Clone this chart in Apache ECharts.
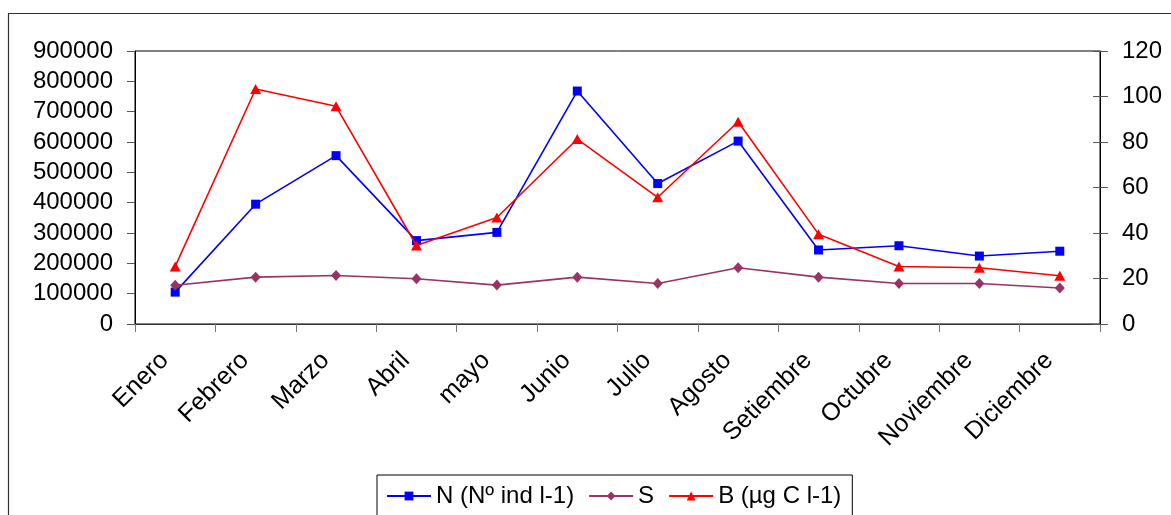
<!DOCTYPE html>
<html>
<head>
<meta charset="utf-8">
<title>N, S, B mensual</title>
<script src="https://cdn.jsdelivr.net/npm/echarts@6/dist/echarts.min.js"></script>
<style>
  html, body { margin: 0; padding: 0; background: #fff; }
  #chart { width: 1171px; height: 515px; }
</style>
</head>
<body>
<div id="chart"></div>
<script>
// Monthly values
const months = ['Enero', 'Febrero', 'Marzo', 'Abril', 'mayo', 'Junio', 'Julio',
  'Agosto', 'Setiembre', 'Octubre', 'Noviembre', 'Diciembre'];
const seriesN = [105000, 395000, 555000, 275000, 302000, 768000, 463000, 603000, 244000, 258000, 224000, 240000];
const seriesS = [17.0, 20.6, 21.3, 19.9, 17.1, 20.6, 17.8, 24.7, 20.6, 17.8, 17.8, 15.8];
const seriesB = [25.3, 103.3, 95.7, 34.5, 46.8, 81.3, 55.7, 88.9, 39.5, 25.3, 24.7, 21.2];
const namesLegend = ['N (Nº ind l-1)', 'S', 'B (µg C l-1)'];

const FONT = 'Liberation Sans, Arial, sans-serif';
const chart = echarts.init(document.getElementById('chart'), null, { renderer: 'canvas' });

chart.setOption({
  animation: false,
  backgroundColor: '#fff',
  textStyle: { fontFamily: FONT },
  graphic: [{
    type: 'rect',
    shape: { x: 8.5, y: 13.5, width: 1300, height: 600 },
    style: { fill: 'none', stroke: '#333', lineWidth: 1.2 },
    silent: true,
    z: -1
  }],
  grid: {
    left: 135, right: 71, top: 51, bottom: 191,
    show: true, borderColor: '#000', borderWidth: 1, backgroundColor: 'transparent'
  },
  legend: {
    left: 377, top: 475,
    orient: 'horizontal',
    data: namesLegend,
    itemWidth: 44, itemHeight: 11, itemGap: 14,
    padding: [9, 11, 9, 9],
    borderColor: '#000', borderWidth: 1,
    textStyle: { fontFamily: FONT, fontSize: 24, color: '#000' }
  },
  xAxis: {
    type: 'category',
    data: months,
    boundaryGap: true,
    axisLine: { lineStyle: { color: '#333', width: 1 } },
    axisTick: { show: true, length: 8, lineStyle: { color: '#777' } },
    axisLabel: {
      rotate: 45, margin: 22, fontSize: 25, color: '#000', fontFamily: FONT, interval: 0,
      padding: [0, 15, 0, 0]
    }
  },
  yAxis: [{
    type: 'value', min: 0, max: 900000, interval: 100000, position: 'left',
    splitLine: { show: false },
    axisLine: { show: true, lineStyle: { color: '#000' } },
    axisTick: { show: true, length: 8, lineStyle: { color: '#555' } },
    axisLabel: { margin: 22, fontSize: 24, color: '#000', fontFamily: FONT, formatter: v => String(v) }
  }, {
    type: 'value', min: 0, max: 120, interval: 20, position: 'right',
    splitLine: { show: false },
    axisLine: { show: true, lineStyle: { color: '#000' } },
    axisTick: { show: true, length: 8, lineStyle: { color: '#555' } },
    axisLabel: { margin: 22, fontSize: 24, color: '#000', fontFamily: FONT }
  }, {
    // inner half of the crossing ticks on the right axis
    type: 'value', min: 0, max: 120, interval: 20, position: 'right',
    splitLine: { show: false },
    axisLine: { show: false },
    axisTick: { show: true, inside: true, length: 7, lineStyle: { color: '#555' } },
    axisLabel: { show: false }
  }],
  series: [{
    name: namesLegend[0], type: 'line', yAxisIndex: 0, data: seriesN,
    symbol: 'rect', symbolSize: 9,
    lineStyle: { color: '#0000ff', width: 1.6 },
    itemStyle: { color: '#0000ff' },
    z: 2
  }, {
    name: namesLegend[1], type: 'line', yAxisIndex: 1, data: seriesS,
    symbol: 'diamond', symbolSize: [10, 11],
    lineStyle: { color: '#993366', width: 1.6 },
    itemStyle: { color: '#993366' },
    z: 3
  }, {
    name: namesLegend[2], type: 'line', yAxisIndex: 1, data: seriesB,
    symbol: 'triangle', symbolSize: [11, 10],
    lineStyle: { color: '#ff0000', width: 1.6 },
    itemStyle: { color: '#ff0000' },
    z: 4
  }]
});
</script>
</body>
</html>
